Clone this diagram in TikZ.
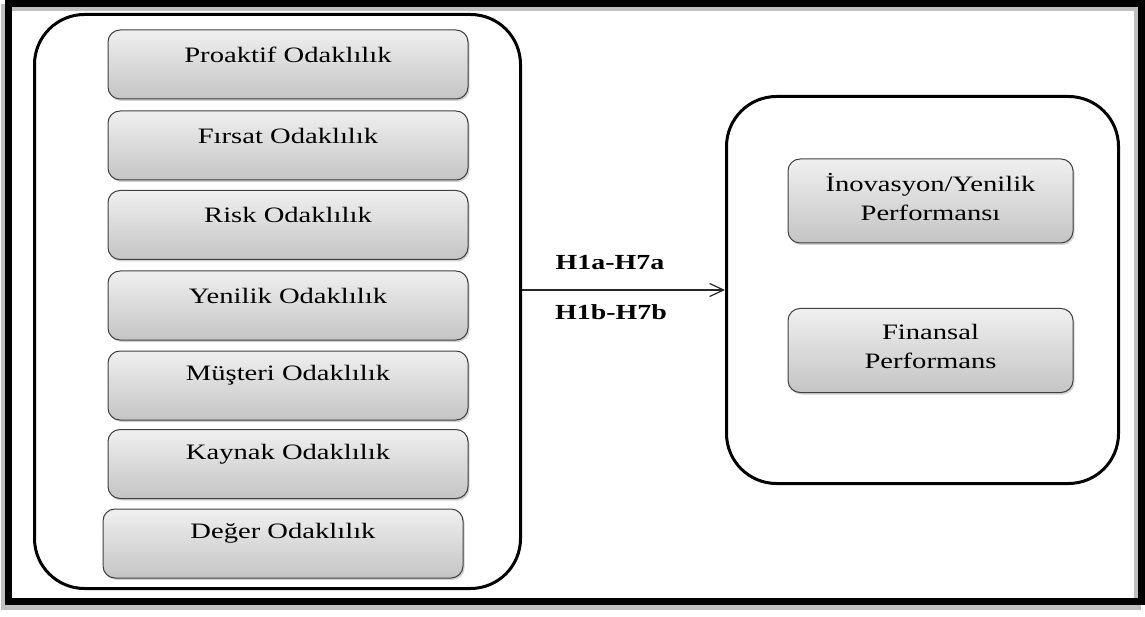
\documentclass[tikz,border=0pt]{standalone}
\usepackage{fontspec}
\newfontfamily\wordfont[FakeStretch=1.3]{Liberation Serif}
\usetikzlibrary{shadows,arrows.meta}
\tikzset{
  panel/.style={draw=black, line width=3pt, rounded corners=50pt, fill=white, minimum width=#1},
  factor/.style={draw=black!75, line width=1pt, rounded corners=12pt, top color=black!6, bottom color=black!23,
    drop shadow={shadow xshift=1.5pt, shadow yshift=-2pt, opacity=0.35},
    minimum width=360pt, minimum height=69pt, inner sep=0pt},
  rfactor/.style={factor, minimum width=285pt, minimum height=84pt},
  lbl/.style={font=\wordfont\fontsize{22}{29}\selectfont, align=center, inner sep=0pt},
  hyp/.style={font=\wordfont\bfseries\fontsize{21.5}{26}\selectfont, inner sep=0pt},
  link/.style={draw=black!85, line width=1.2pt, -{Straight Barb[length=14pt,width=13pt]}}
}
\begin{document}
\begin{tikzpicture}[x=1pt,y=-1pt]
\useasboundingbox (0,0) rectangle (1145,617);
\fill[white] (0,0) rectangle (1145,617);
% outer frame with faint shadow
\draw[black!25, line width=7pt] (4.5,8) rectangle (1137,606);
\draw[black, line width=7pt] (8.5,3.5) rectangle (1141.5,601);

% panels
\node[panel=486pt, minimum height=574pt] (left) at (277.5,301.5) {};
\node[panel=392pt, minimum height=387pt] (right) at (922.5,290) {};

% left factors
\node[factor] (f1) at (288,64.5) {};
\node[factor] (f2) at (288,145.5) {};
\node[factor] (f3) at (288,225) {};
\node[factor] (f4) at (288,305.5) {};
\node[factor] (f5) at (288,385.5) {};
\node[factor] (f6) at (288,464) {};
\node[factor] (f7) at (283,543.5) {};

\node[lbl] (t1) at ([yshift=-25pt]f1.north) {Proaktif Odaklılık};
\node[lbl] (t2) at ([yshift=-25pt]f2.north) {Fırsat Odaklılık};
\node[lbl] (t3) at ([yshift=-25pt]f3.north) {Risk Odaklılık};
\node[lbl] (t4) at ([yshift=-25pt]f4.north) {Yenilik Odaklılık};
\node[lbl] (t5) at ([yshift=-25pt]f5.north) {Müşteri Odaklılık};
\node[lbl] (t6) at ([yshift=-25pt]f6.north) {Kaynak Odaklılık};
\node[lbl] (t7) at ([yshift=-25pt]f7.north) {Değer Odaklılık};

% right factors
\node[rfactor] (r1) at (930.5,201) {};
\node[rfactor] (r2) at (930.5,350.5) {};
\node[lbl] (u1) at ([yshift=4pt]r1.center) {İnovasyon/Yenilik\\Performansı};
\node[lbl] (u2) at ([yshift=4.5pt]r2.center) {Finansal\\Performans};

% connector
\draw[link] (right.west -| left.east) -- (right.west);
\node[hyp] (h1) at (610,263) {H1a-H7a};
\node[hyp] (h2) at (611,312) {H1b-H7b};
\end{tikzpicture}
\end{document}
